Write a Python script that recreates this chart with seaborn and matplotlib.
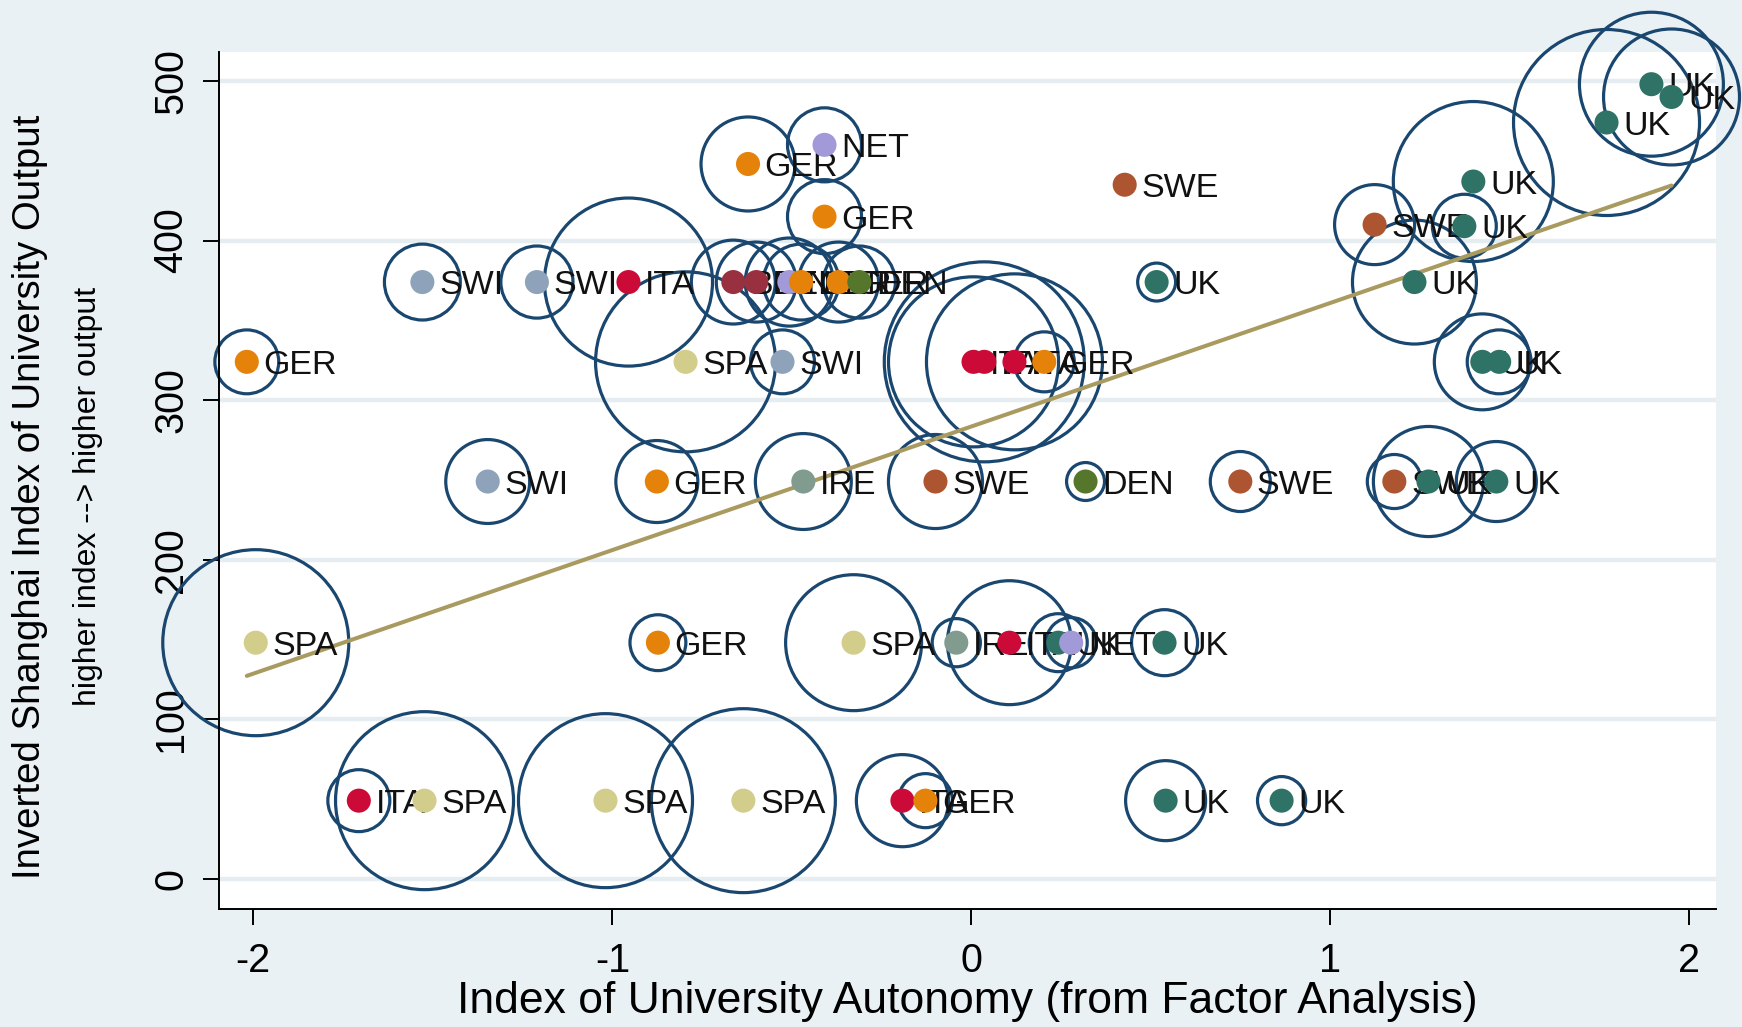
import numpy as np
import pandas as pd
import matplotlib
matplotlib.use("Agg")
import matplotlib.pyplot as plt
import seaborn as sns

# ---------------- data ----------------
autonomy = [
    -1.706, -1.523, -1.019, -0.635, -0.192, -0.128, 0.541, 0.864,
    -1.993, -0.873, -0.328, -0.042, 0.106, 0.242, 0.278, 0.538,
    -1.347, -0.876, -0.468, -0.100, 0.318, 0.749, 1.178, 1.273, 1.462,
    -2.018, -0.796, -0.526, 0.006, 0.036, 0.120, 0.203, 1.423, 1.470,
    -1.529, -1.210, -0.955, -0.663, -0.599, -0.507, -0.474, -0.370, -0.312, 0.516, 1.234,
    -0.622, -0.409, -0.409, 0.427, 1.123, 1.373, 1.398, 1.769, 1.894, 1.950,
]
shanghai = [
    49, 49, 49, 49, 49, 49, 49, 49,
    148, 148, 148, 148, 148, 148, 148, 148,
    249, 249, 249, 249, 249, 249, 249, 249, 249,
    324, 324, 324, 324, 324, 324, 324, 324, 324,
    374, 374, 374, 374, 374, 374, 374, 374, 374, 374, 374,
    448, 460, 415, 435, 410, 409, 437, 474, 498, 490,
]
country = [
    "ITA", "SPA", "SPA", "SPA", "ITA", "GER", "UK", "UK",
    "SPA", "GER", "SPA", "IRE", "ITA", "UK", "NET", "UK",
    "SWI", "GER", "IRE", "SWE", "DEN", "SWE", "SWE", "UK", "UK",
    "GER", "SPA", "SWI", "ITA", "ITA", "ITA", "GER", "UK", "UK",
    "SWI", "SWI", "ITA", "BEL", "BEL", "NET", "GER", "GER", "DEN", "UK", "UK",
    "GER", "NET", "GER", "SWE", "SWE", "UK", "UK", "UK", "UK", "UK",
]
bubble_weight = [
    9.6, 79.2, 75.7, 84.6, 21.2, 7.3, 16.0, 5.8,
    86.5, 7.8, 46.2, 5.8, 38.4, 8.4, 6.3, 10.9,
    17.6, 16.8, 23.0, 22.1, 3.6, 9.0, 7.3, 30.3, 16.0,
    10.2, 81.0, 10.2, 72.3, 100.0, 77.4, 9.0, 23.0, 10.2,
    14.4, 13.0, 70.6, 17.6, 16.0, 19.4, 14.4, 16.0, 13.0, 3.6, 38.4,
    22.1, 13.7, 13.7, 0.0, 16.0, 10.2, 64.0, 86.5, 51.8, 46.2,
]

country_colors = {
    "UK": "#2f7366", "SWE": "#ad5530", "GER": "#e5820a", "SPA": "#d3cd8b",
    "SWI": "#8ea2ba", "ITA": "#cc0a37", "BEL": "#99303f", "NET": "#a199d8",
    "DEN": "#56762c", "IRE": "#819b8f",
}

x_ticks = [-2, -1, 0, 1, 2]
x_tick_labels = ["-2", "-1", "0", "1", "2"]
y_ticks = [0, 100, 200, 300, 400, 500]
y_tick_labels = ["0", "100", "200", "300", "400", "500"]

x_title = "Index of University Autonomy (from Factor Analysis)"
y_title = "Inverted Shanghai Index of University Output"
y_subtitle = "higher index --> higher output"

# ---------------- styling ----------------
BG = "#eaf1f4"
NAVY = "#1a476f"
FIT = "#a99a5f"
GRID = "#e6edf0"

sns.set_theme(style="white")
plt.rcParams["font.family"] = ["Liberation Sans", "DejaVu Sans"]
plt.rcParams["axes.unicode_minus"] = False

df = pd.DataFrame({
    "autonomy": autonomy,
    "shanghai": shanghai,
    "country": country,
    "weight": bubble_weight,
})

fig = plt.figure(figsize=(17.42, 10.27), dpi=100, facecolor=BG)
ax = fig.add_axes([0.1257, 0.1149, 0.8594, 0.8345])
ax.set_facecolor("white")

# bubbles (area proportional to weight), not clipped at the plot region
k = 207.36
wmax = max(bubble_weight)
sns.scatterplot(data=df, x="autonomy", y="shanghai", size="weight",
                sizes=(0, k * wmax), size_norm=(0, wmax),
                facecolor="none", edgecolor=NAVY, linewidth=2.3,
                legend=False, ax=ax, zorder=2, clip_on=False)

# weighted linear fit (analytic weights = bubble weight)
fd = df[df["weight"] > 0]
coef = np.polyfit(fd["autonomy"], fd["shanghai"], 1, w=np.sqrt(fd["weight"]))
fit_x = np.array([fd["autonomy"].min(), fd["autonomy"].max()])
fit_df = pd.DataFrame({"autonomy": fit_x, "shanghai": np.polyval(coef, fit_x)})
sns.lineplot(data=fit_df, x="autonomy", y="shanghai", color=FIT, lw=2.9,
             ax=ax, zorder=3)

# country labels
for xv, yv, lab in zip(df["autonomy"], df["shanghai"], df["country"]):
    ax.annotate(lab, (xv, yv), xytext=(12, -8.8), textcoords="offset points",
                ha="left", va="baseline", fontsize=24.5, color="#111111",
                zorder=4)

# coloured country dots
sns.scatterplot(data=df, x="autonomy", y="shanghai", hue="country",
                palette=country_colors, s=300, linewidth=0, legend=False,
                ax=ax, zorder=5)

ax.set_xlim(-2.0955, 2.074)
ax.set_ylim(-18.9, 518.2)
ax.set_xticks(x_ticks)
ax.set_xticklabels(x_tick_labels)
ax.set_yticks(y_ticks)
ax.set_yticklabels(y_tick_labels, rotation=90, va="center")
ax.yaxis.grid(True, color=GRID, lw=3.2)
ax.xaxis.grid(False)
ax.set_axisbelow(True)

for side in ["top", "right"]:
    ax.spines[side].set_visible(False)
for side in ["left", "bottom"]:
    ax.spines[side].set_color("black")
    ax.spines[side].set_linewidth(1.4)

ax.tick_params(axis="both", direction="out", length=11.5, width=1.4,
               color="black", labelsize=28.5, labelcolor="black",
               left=True, bottom=True)
ax.tick_params(axis="x", pad=12)
ax.tick_params(axis="y", pad=9)

ax.set_xlabel(x_title, fontsize=32, color="black")
ax.xaxis.label.set_verticalalignment("baseline")
ax.xaxis.set_label_coords(0.5, -0.1214)

ax.set_ylabel(y_title, fontsize=27.6, color="black")
ax.yaxis.label.set_verticalalignment("center")
ax.yaxis.set_label_coords(-0.1264, 0.481)
ax.text(-0.0876, 0.481, y_subtitle, transform=ax.transAxes, rotation=90,
        rotation_mode="anchor", ha="center", va="center", fontsize=23,
        color="black")

fig.savefig("out.png", dpi=100, facecolor=BG)
